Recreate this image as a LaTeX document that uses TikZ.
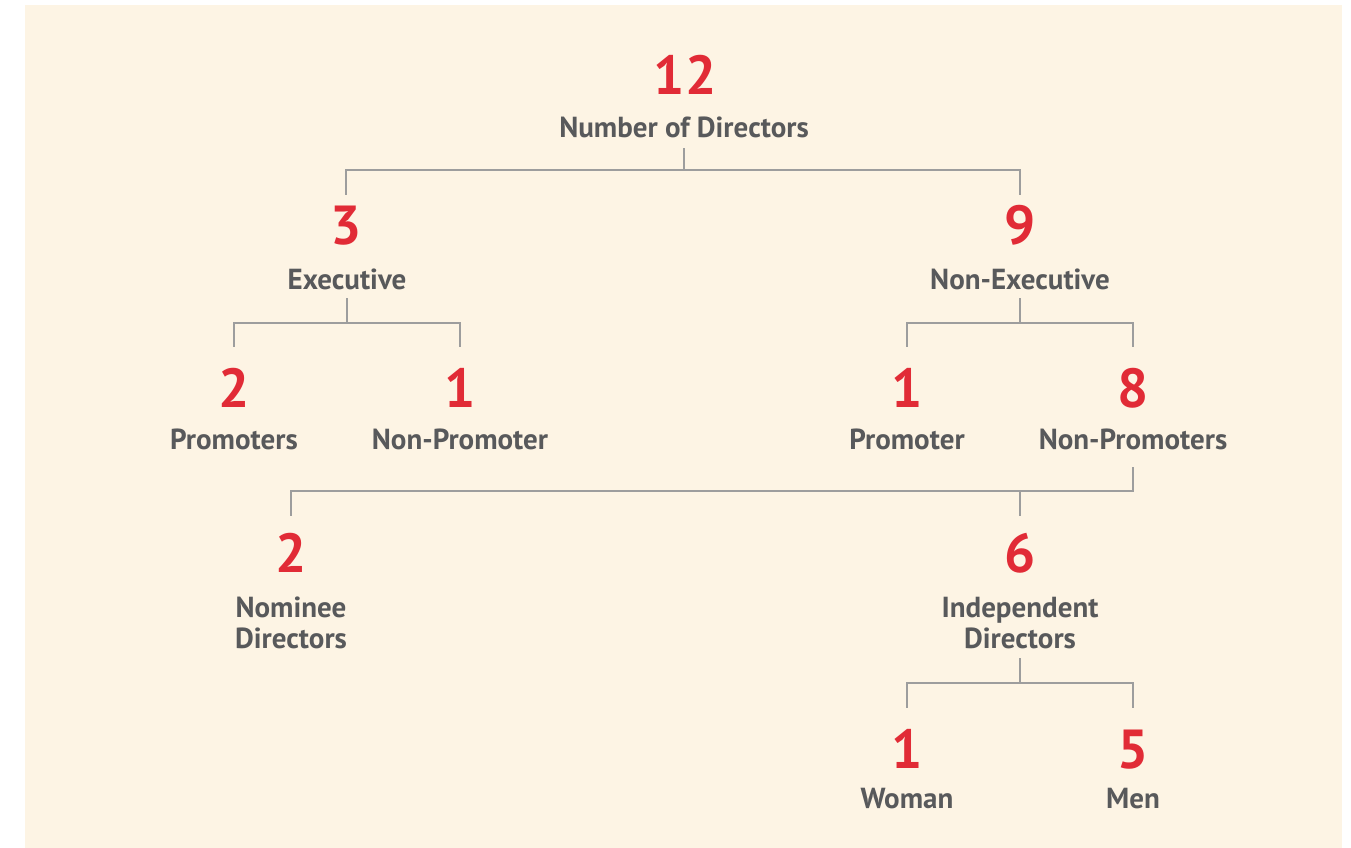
\documentclass[tikz,border=0pt]{standalone}
\usepackage{fontspec}
\setmainfont{PT Sans}
\definecolor{bgcol}{HTML}{FDF4E4}
\definecolor{numred}{HTML}{E12B36}
\definecolor{txtgrey}{HTML}{58595B}
\definecolor{linegrey}{HTML}{9D9D9D}
\tikzset{
  num/.style={anchor=base, inner sep=0pt, text height=38pt, text depth=0pt, text=numred, font=\fontsize{55}{55}\selectfont\bfseries},
  lbl/.style={anchor=base, inner sep=0pt, text depth=0pt, text=txtgrey, align=center, font=\fontsize{29}{31}\selectfont\bfseries},
  conn/.style={draw=linegrey, line width=1.8pt}
}
\begin{document}
\begin{tikzpicture}[x=1pt, y=-1pt]
\useasboundingbox (0,0) rectangle (1351,848);
\fill[white] (0,0) rectangle (1351,848);
\fill[bgcol] (25,5) rectangle (1342,848);
% top
\node[num] (n12) at (685,95) {12};
\node[lbl] (lTop) at (684,137) {Number of Directors};
% level 2
\node[num] (n3) at (346,244) {3};
\node[lbl] (lExec) at (347,289) {Executive};
\node[num] (n9) at (1020,244) {9};
\node[lbl] (lNonExec) at (1020,289) {Non-Executive};
% level 3
\node[num] (n2a) at (234,407) {2};
\node[lbl] (lProm) at (234,449) {Promoters};
\node[num] (n1a) at (460,407) {1};
\node[lbl] (lNonProm) at (460,449) {Non-Promoter};
\node[num] (n1b) at (907,407) {1};
\node[lbl] (lProm2) at (907,449) {Promoter};
\node[num] (n8) at (1133,407) {8};
\node[lbl] (lNonProms) at (1133,449) {Non-Promoters};
% level 4
\node[num] (n2c) at (291,572) {2};
\node[lbl] (lNom) at (291,648) {Nominee\\Directors};
\node[num] (n6) at (1020,572) {6};
\node[lbl] (lInd) at (1020,648) {Independent\\Directors};
% level 5
\node[num] (n1c) at (907,768) {1};
\node[lbl] (lWoman) at (907,808) {Woman};
\node[num] (n5) at (1133,768) {5};
\node[lbl] (lMen) at (1133,808) {Men};
% connectors
\draw[conn, shorten <=11pt, shorten >=11pt] (lTop.south) -- ++(0,33) -| (n3.north);
\draw[conn, shorten <=11pt, shorten >=11pt] (lTop.south) -- ++(0,33) -| (n9.north);
\draw[conn, shorten <=9pt, shorten >=22pt] (lExec.south) -- ++(0,34) -| (n2a.north);
\draw[conn, shorten <=9pt, shorten >=22pt] (lExec.south) -- ++(0,34) -| (n1a.north);
\draw[conn, shorten <=9pt, shorten >=22pt] (lNonExec.south) -- ++(0,34) -| (n1b.north);
\draw[conn, shorten <=9pt, shorten >=22pt] (lNonExec.south) -- ++(0,34) -| (n8.north);
\draw[conn, shorten <=18pt, shorten >=18pt] (lNonProms.south) -- ++(0,42) -| (n2c.north);
\draw[conn, shorten <=18pt, shorten >=18pt] (lNonProms.south) -- ++(0,42) -| (n6.north);
\draw[conn, shorten <=10pt, shorten >=22pt] (lInd.south) -- ++(0,35) -| (n1c.north);
\draw[conn, shorten <=10pt, shorten >=22pt] (lInd.south) -- ++(0,35) -| (n5.north);
\end{tikzpicture}
\end{document}
